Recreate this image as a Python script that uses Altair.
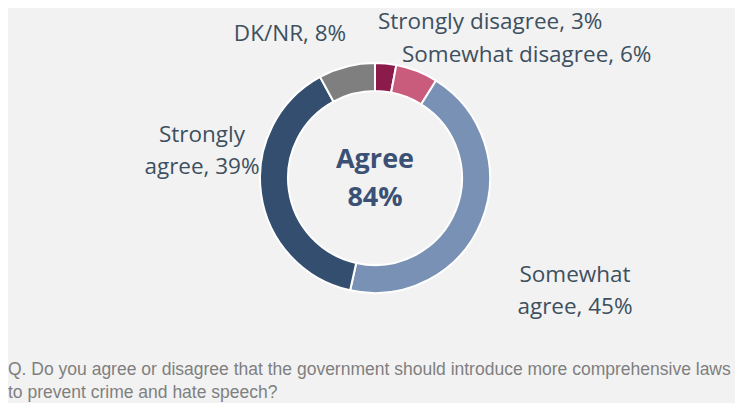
import altair as alt
import pandas as pd

# ---- data ----
categories = ["Strongly disagree", "Somewhat disagree", "Somewhat agree", "Strongly agree", "DK/NR"]
values = [3, 6, 45, 39, 8]
label_texts = [["Strongly disagree, 3%"], ["Somewhat disagree, 6%"], ["Somewhat", "agree, 45%"],
               ["Strongly", "agree, 39%"], ["DK/NR, 8%"]]
center_lines = ["Agree", "84%"]
footnote_lines = ["Q. Do you agree or disagree that the government should introduce more comprehensive laws",
                  "to prevent crime and hate speech?"]

# ---- styles / layout ----
colors = ["#8B1B4B", "#C95B7C", "#7891B5", "#344E6F", "#7F7F7F"]
label_x = [370, 394, 567, 194, 282]
label_y = [14, 47, 267, 127, 26]
label_align = ["left", "left", "center", "center", "center"]
cx, cy = 367, 170
W, H = 727, 395

df = pd.DataFrame({"cat": categories, "val": values, "order": list(range(len(values)))})
lab = pd.DataFrame({"txt": label_texts, "lx": label_x, "ly": label_y, "al": label_align})

arc = alt.Chart(df).mark_arc(innerRadius=87, outerRadius=115, stroke="white", strokeWidth=2).encode(
    theta=alt.Theta("val:Q", stack=True),
    order=alt.Order("order:Q"),
    color=alt.Color("cat:N", scale=alt.Scale(domain=categories, range=colors), legend=None),
    x=alt.value(cx), y=alt.value(cy),
)

def label_layer(align):
    return alt.Chart(lab[lab.al == align]).mark_text(
        align=align, baseline="middle", font="Open Sans", fontSize=22.5, color="#3D5060", lineHeight=32
    ).encode(
        x=alt.X("lx:Q", scale=None), y=alt.Y("ly:Q", scale=None), text="txt"
    )

center = alt.Chart(pd.DataFrame({"t": [center_lines]})).mark_text(
    align="center", baseline="middle", font="Open Sans", fontWeight="bold", fontSize=27,
    color="#3A5074", lineHeight=38
).encode(x=alt.value(cx), y=alt.value(152), text="t")

foot = alt.Chart(pd.DataFrame({"t": [footnote_lines]})).mark_text(
    align="left", baseline="middle", font="Liberation Sans", fontSize=17.5,
    color="#7F7F7F", lineHeight=23
).encode(x=alt.value(0), y=alt.value(362), text="t")

chart = alt.layer(arc, label_layer("left"), label_layer("center"), center, foot).properties(
    width=W, height=H, autosize="none", padding=0, background="#F2F2F2"
).configure_view(stroke=None)

chart.save("out.html", embed_options={"renderer": "svg", "actions": False})
